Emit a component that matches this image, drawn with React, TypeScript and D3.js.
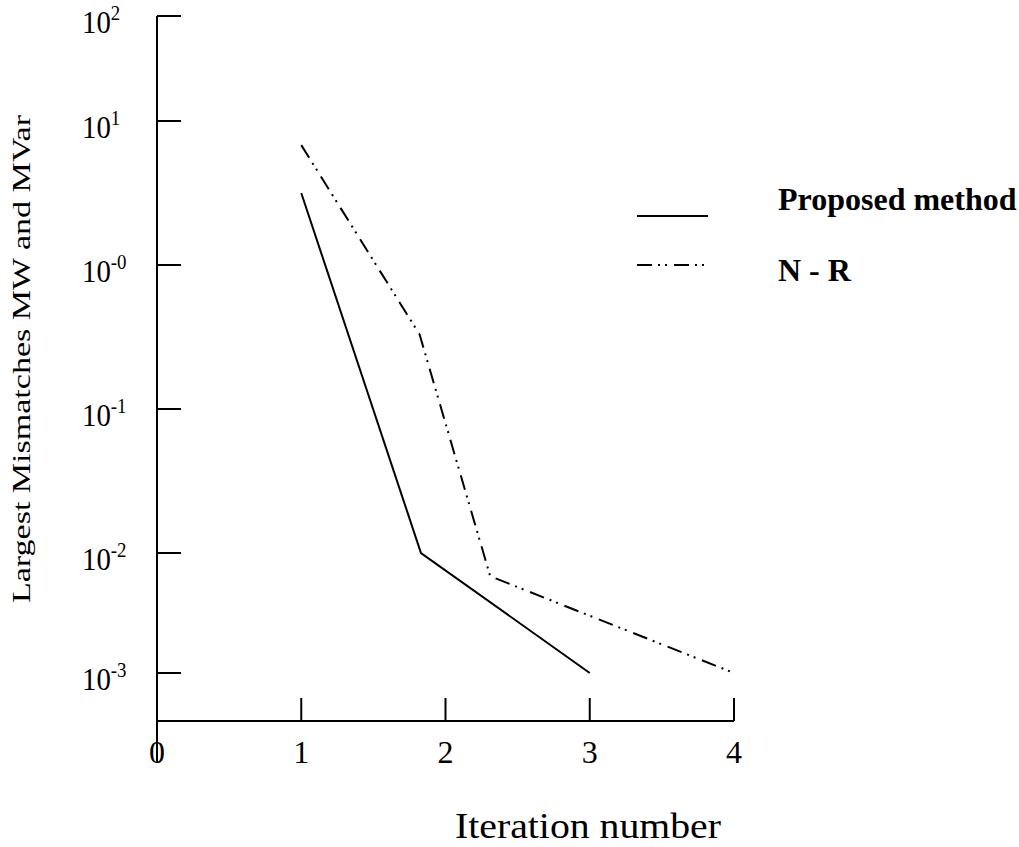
import React from "react";
import * as d3 from "d3";

const W = 1019;
const H = 847;

// Data
const proposedX = [1, 1.83, 3];
const proposedY = [3.16, 0.01, 0.001];
const nrX = [1, 1.82, 2.31, 4];
const nrY = [6.8, 0.33, 0.0064, 0.001];

const xTicks = [0, 1, 2, 3, 4];
const yTickValues = [100, 10, 1, 0.1, 0.01, 0.001];
const yTickExponents = ["2", "1", "-0", "-1", "-2", "-3"];

const legendLabels = ["Proposed method", "N - R"];
const xTitle = "Iteration number";
const yTitle = "Largest Mismatches MW and MVar";

const FONT = "'Liberation Serif', 'Times New Roman', serif";
const DASH = "15,6,2,5,2,7";

export default function App() {
  const x = d3.scaleLinear().domain([0, 4]).range([157, 734]);
  // the original figure's decades are not evenly spaced, so use a piecewise log scale
  const y = d3
    .scaleLog()
    .domain([0.001, 0.01, 0.1, 1, 10, 100])
    .range([673, 553, 409, 265, 121, 16]);

  const line = d3
    .line<[number, number]>()
    .x((d) => x(d[0]))
    .y((d) => y(d[1]));

  const pData = proposedX.map((v, i) => [v, proposedY[i]] as [number, number]);
  const nData = nrX.map((v, i) => [v, nrY[i]] as [number, number]);

  const axisY = 721;
  const axisX = x(0);

  return (
    <svg
      width={W}
      height={H}
      style={{ position: "absolute", left: 0, top: 0, background: "#fff" }}
      fontFamily={FONT}
    >
      <rect x={0} y={0} width={W} height={H} fill="#fff" />
      {/* y axis */}
      <line x1={axisX} x2={axisX} y1={y(100)} y2={762} stroke="#000" strokeWidth={2} />
      {yTickValues.map((v, i) => (
        <g key={"yt" + i}>
          <line x1={axisX} x2={axisX + 24} y1={y(v)} y2={y(v)} stroke="#000" strokeWidth={2} />
          <text
            transform={`translate(82,${y(v) + 17}) scale(0.9,1)`}
            fontSize={32}
            fill="#000"
          >
            10
            <tspan fontSize={21} dy={-13}>
              {yTickExponents[i]}
            </tspan>
          </text>
        </g>
      ))}
      {/* x axis */}
      <line x1={axisX} x2={x(4)} y1={axisY} y2={axisY} stroke="#000" strokeWidth={2} />
      {xTicks.map((t) => (
        <g key={"xt" + t}>
          {t > 0 && (
            <line x1={x(t)} x2={x(t)} y1={axisY} y2={axisY - 23} stroke="#000" strokeWidth={2} />
          )}
          <text x={x(t)} y={763} fontSize={32} textAnchor="middle" fill="#000">
            {t}
          </text>
        </g>
      ))}
      {/* titles */}
      <text
        x={455}
        y={838}
        fontSize={36}
        textLength={266}
        lengthAdjust="spacingAndGlyphs"
        fill="#000"
      >
        {xTitle}
      </text>
      <text
        transform={`translate(30,359) rotate(-90)`}
        fontSize={25}
        textAnchor="middle"
        textLength={488}
        lengthAdjust="spacingAndGlyphs"
        fill="#000"
      >
        {yTitle}
      </text>
      {/* series */}
      <path d={line(pData) || ""} fill="none" stroke="#000" strokeWidth={2} />
      <path
        d={line(nData) || ""}
        fill="none"
        stroke="#000"
        strokeWidth={2}
        strokeDasharray={DASH}
      />
      {/* legend */}
      <line x1={637} x2={708} y1={216} y2={216} stroke="#000" strokeWidth={2} />
      <text x={778} y={210} fontSize={32} fontWeight="bold" fill="#000">
        {legendLabels[0]}
      </text>
      <line
        x1={637}
        x2={708}
        y1={265}
        y2={265}
        stroke="#000"
        strokeWidth={2}
        strokeDasharray={DASH}
      />
      <text x={778} y={281} fontSize={32} fontWeight="bold" fill="#000">
        {legendLabels[1]}
      </text>
    </svg>
  );
}
